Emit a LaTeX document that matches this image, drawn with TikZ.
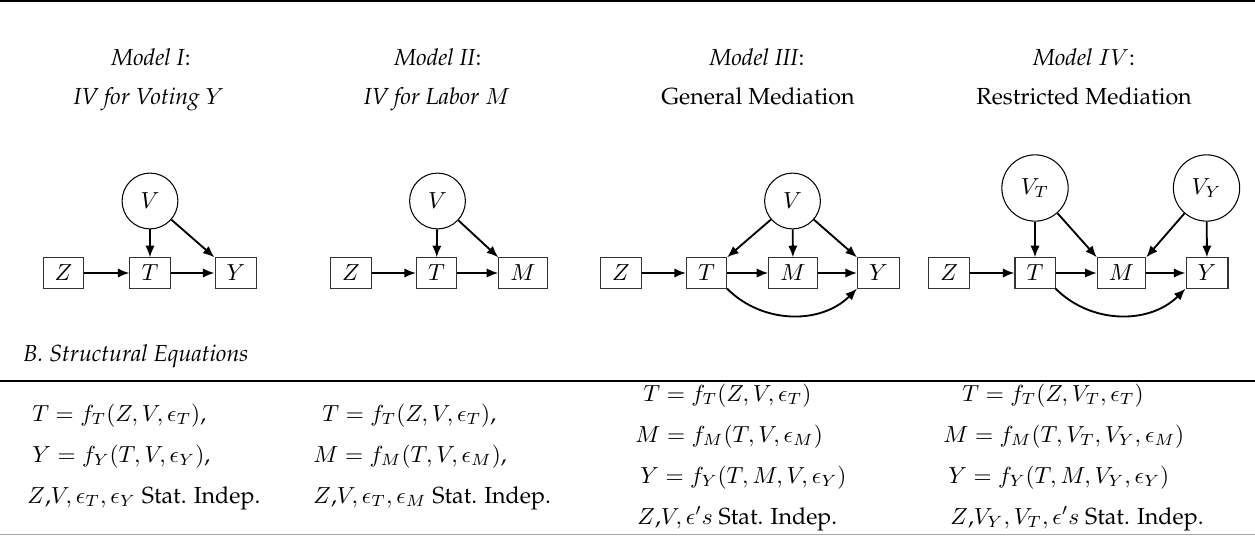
\documentclass[tikz,border=0pt]{standalone}
\usepackage[T1]{fontenc}
\renewcommand{\rmdefault}{ppl}
\usetikzlibrary{arrows.meta}
\begin{document}
\begin{tikzpicture}[x=0.43pt,y=-0.43pt,
  var/.style={draw=black!80, line width=0.45pt, rectangle, minimum width=16pt, minimum height=13pt, inner xsep=5pt, inner ysep=2pt},
  lat/.style={draw, circle, line width=0.45pt, minimum size=24pt, inner sep=0pt},
  latb/.style={lat, minimum size=28.5pt},
  arr/.style={-{Latex[length=5pt,width=4pt]}, line width=0.8pt},
  ttl/.style={anchor=base, inner sep=0pt},
  eq/.style={anchor=base west, inner sep=0pt}]
\useasboundingbox (0,0) rectangle (1255,538);
% rules
\draw[line width=1pt] (0,1.2) -- (1255,1.2);
\draw[line width=0.6pt] (0,381) -- (1255,381);
\draw[line width=0.6pt, black!35] (0,534.5) -- (1255,534.5);

% titles
\node[ttl] (h1a) at (151,66) {\textit{Model I}:};
\node[ttl] (h1b) at (149,105) {\textit{IV for Voting $Y$}};
\node[ttl] (h2a) at (438,66) {\textit{Model II}:};
\node[ttl] (h2b) at (437,105) {\textit{IV for Labor $M$}};
\node[ttl] (h3a) at (757,66) {\textit{Model III}:};
\node[ttl] (h3b) at (758,105) {General Mediation};
\node[ttl] (h4a) at (1084,66) {\textit{Model $IV$}:};
\node[ttl] (h4b) at (1084,105) {Restricted Mediation};

% Model I
\node[lat] (v1) at (150,201) {$V$};
\node[var] (z1) at (63.5,273) {$Z$};
\node[var] (t1) at (150,273) {$T$};
\node[var] (y1) at (236,273) {$Y$};
\draw[arr] (z1) -- (t1);
\draw[arr] (t1) -- (y1);
\draw[arr] (v1) -- (t1);
\draw[arr] (v1) -- (y1.north west);

% Model II
\node[lat] (v2) at (437.5,201) {$V$};
\node[var] (z2) at (351,273) {$Z$};
\node[var] (t2) at (436.5,273) {$T$};
\node[var] (m2) at (523,273) {$M$};
\draw[arr] (z2) -- (t2);
\draw[arr] (t2) -- (m2);
\draw[arr] (v2) -- (t2);
\draw[arr] (v2) -- (m2.north west);

% Model III
\node[lat] (v3) at (792.5,201) {$V$};
\node[var] (z3) at (621,273) {$Z$};
\node[var] (t3) at (706.5,273) {$T$};
\node[var] (m3) at (793,273) {$M$};
\node[var] (y3) at (878.5,273) {$Y$};
\draw[arr] (z3) -- (t3);
\draw[arr] (t3) -- (m3);
\draw[arr] (m3) -- (y3);
\draw[arr] (v3) -- (t3.north east);
\draw[arr] (v3) -- (m3);
\draw[arr] (v3) -- (y3.north west);
\draw[arr] (t3.south east) to[out=-45,in=-135] (y3.south west);

% Model IV
\node[latb] (vt4) at (1035,188) {$V_T$};
\node[latb] (vy4) at (1206.5,188) {$V_Y$};
\node[var] (z4) at (949,273) {$Z$};
\node[var] (t4) at (1035,273) {$T$};
\node[var] (m4) at (1121.5,273) {$M$};
\node[var] (y4) at (1207,273) {$Y$};
\draw[arr] (z4) -- (t4);
\draw[arr] (t4) -- (m4);
\draw[arr] (m4) -- (y4);
\draw[arr] (vt4) -- (t4);
\draw[arr] (vt4) -- (m4.north west);
\draw[arr] (vy4) -- (m4.north east);
\draw[arr] (vy4) -- (y4);
\draw[arr] (t4.south east) to[out=-45,in=-135] (y4.south west);

% Section B
\node[eq] (bhead) at (23,361) {\textit{B. Structural Equations}};

\node[eq] (e1a) at (32,421.5) {$T = f_T(Z, V, \epsilon_T)$,};
\node[eq] (e1b) at (32,462) {$Y = f_Y(T, V, \epsilon_Y)$,};
\node[eq] (e1c) at (27,503) {$Z$,$V, \epsilon_T, \epsilon_Y$ Stat. Indep.};

\node[eq] (e2a) at (322,421.5) {$T = f_T(Z, V, \epsilon_T)$,};
\node[eq] (e2b) at (313,462) {$M = f_M(T, V, \epsilon_M)$,};
\node[eq] (e2c) at (313,503) {$Z$,$V, \epsilon_T, \epsilon_M$ Stat. Indep.};

\node[eq] (e3a) at (643,401) {$T = f_T(Z, V, \epsilon_T)$};
\node[eq] (e3b) at (635,442) {$M = f_M(T, V, \epsilon_M)$};
\node[eq] (e3c) at (640,483) {$Y = f_Y(T, M, V, \epsilon_Y)$};
\node[eq] (e3d) at (637,524) {$Z$,$V, \epsilon's$ Stat. Indep.};

\node[eq] (e4a) at (962,401) {$T = f_T(Z, V_T, \epsilon_T)$};
\node[eq] (e4b) at (943,442) {$M = f_M(T, V_T, V_Y, \epsilon_M)$};
\node[eq] (e4c) at (948,483) {$Y = f_Y(T, M, V_Y, \epsilon_Y)$};
\node[eq] (e4d) at (950,524) {$Z$,$V_Y, V_T, \epsilon's$ Stat. Indep.};
\end{tikzpicture}
\end{document}
